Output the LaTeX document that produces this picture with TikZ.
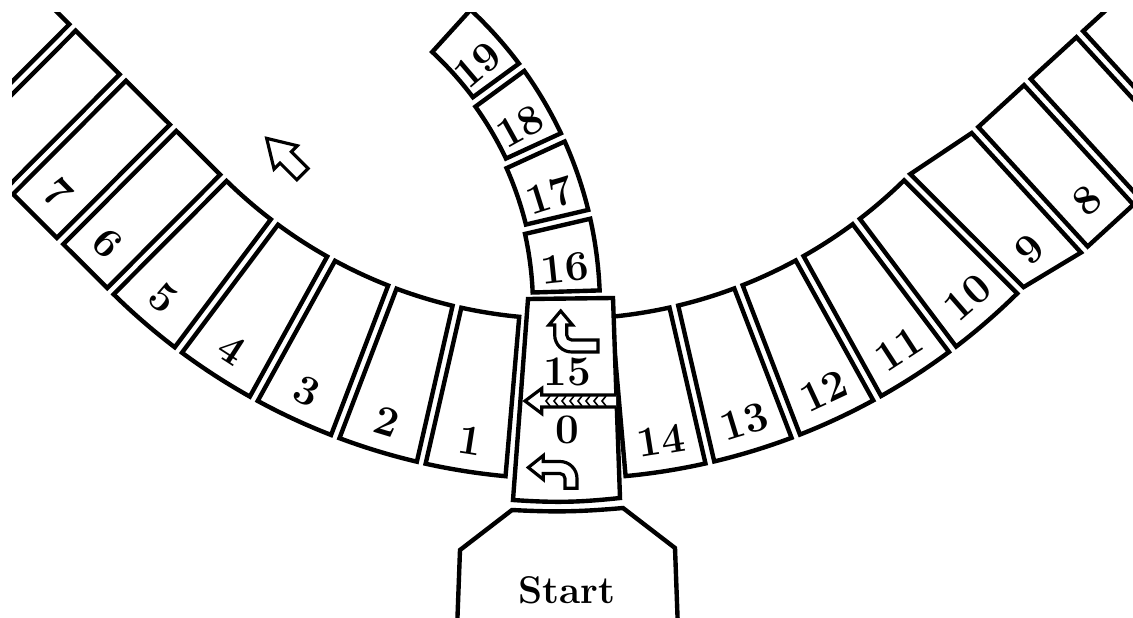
\documentclass[tikz,border=0pt]{standalone}
\usetikzlibrary{calc}
\tikzset{
  cellbox/.style={draw=black,line width=2.5pt,fill=white,line join=miter},
  celltext/.style={font=\fontsize{24}{24}\selectfont\bfseries,inner sep=0pt},
  openarrow/.style={draw=black,line width=1.8pt,fill=white,line join=miter},
}
\begin{document}
\begin{tikzpicture}[x=0.02cm,y=-0.02cm]
  \useasboundingbox (0,0) rectangle (1133,618);
  \clip (12,13) rectangle (1133,618);
  \coordinate (C) at (565,-165);
  \coordinate (B) at (194,307);
  % ring, curved part (left and right)
  \foreach \k in {1,...,5} {
    \pgfmathsetmacro{\ta}{86.9+8*\k}
    \pgfmathsetmacro{\tb}{\ta+8}
    \draw[cellbox] ($(C)+(\ta+0.53:484)$) arc[start angle=\ta+0.53,end angle=\tb-0.53,radius=484]
      -- ($(C)+(\tb-0.4:644)$) arc[start angle=\tb-0.4,end angle=\ta+0.4,radius=644] -- cycle;
    \node[celltext,rotate=86-\ta] (L\k) at ($(C)+(\ta+4:613)$) {\k};
    \pgfmathsetmacro{\ra}{93-8*\k}
    \pgfmathsetmacro{\rb}{\ra-8}
    \pgfmathtruncatemacro{\num}{15-\k}
    \draw[cellbox] ($(C)+(\ra-0.53:484)$) arc[start angle=\ra-0.53,end angle=\rb+0.53,radius=484]
      -- ($(C)+(\rb+0.4:644)$) arc[start angle=\rb+0.4,end angle=\ra-0.4,radius=644] -- cycle;
    \node[celltext,rotate=94-\ra] (R\num) at ($(C)+(\ra-4:613)$) {\num};
  }
  % ring, straight part on the left
  \coordinate (PL) at ($(C)+(134.9:484)$);
  \coordinate (QL) at ($(C)+(134.9:644)$);
  \foreach \j/\lab in {0/6,1/7,2/,3/} {
    \pgfmathsetmacro{\sa}{71*\j+4.5}
    \pgfmathsetmacro{\sb}{71*\j+66.5}
    \draw[cellbox] ($(PL)+(224.9:\sa)$) -- ($(PL)+(224.9:\sb)$) -- ($(QL)+(224.9:\sb)$) -- ($(QL)+(224.9:\sa)$) -- cycle;
    \node[celltext,rotate=-44.9] at ($(PL)+(224.9:\sa+31)+(134.9:128)$) {\lab};
  }
  % ring, straight part on the right (cell 9 joins it to the curve)
  \coordinate (PR) at (975,130);
  \coordinate (QR) at ($(PR)+(47.55:162)$);
  \draw[cellbox] ($(C)+(44.47:484)$) -- ($(PR)+(-42.45:-4.5)$) -- ($(QR)+(-42.45:-4.5)$)
    -- ($(C)+(44.6:644)$) -- cycle;
  \node[celltext,rotate=44] (R9) at (1030,249) {9};
  \foreach \j/\lab in {0/8,1/,2/} {
    \pgfmathsetmacro{\sa}{71*\j+4.5}
    \pgfmathsetmacro{\sb}{71*\j+66.5}
    \draw[cellbox] ($(PR)+(-42.45:\sa)$) -- ($(PR)+(-42.45:\sb)$) -- ($(QR)+(-42.45:\sb)$) -- ($(QR)+(-42.45:\sa)$) -- cycle;
    \node[celltext,rotate=42.45] at ($(PR)+(-42.45:\sa+31)+(47.55:128)$) {\lab};
  }
  % branch 16--19
  \foreach \k/\ri in {0/339,1/342,2/345.5,3/349} {
    \pgfmathsetmacro{\ta}{-1.7-11.5*\k}
    \pgfmathsetmacro{\tb}{\ta-11.5}
    \pgfmathtruncatemacro{\num}{16+\k}
    \draw[cellbox] ($(B)+(\ta-0.75:\ri)$) arc[start angle=\ta-0.75,end angle=\tb+0.75,radius=\ri]
      -- ($(B)+(\tb+0.64:406)$) arc[start angle=\tb+0.64,end angle=\ta-0.64,radius=406] -- cycle;
    \node[celltext,rotate={4.25-(\ta)}] (U\num) at ($(B)+(\ta-4.25:373)$) {\num};
  }
  % start cell 0/15
  \draw[cellbox] (528,299) -- (613,298) -- (620,498) to[bend left=5] (513,500) -- cycle;
  \node[celltext] (n15) at (567,372) {15};
  \node[celltext] (n0) at (567,430) {0};
  % start box
  \draw[cellbox] (457,630) -- (460,550) -- (512,510) to[bend right=4] (623,508) -- (675,548) -- (678,630);
  \node[font=\fontsize{22}{22}\selectfont\bfseries] (start) at (567,590) {Start};
  % arrows
  \draw[openarrow] (598,340) -- (571.7,340) arc[start angle=90,end angle=180,radius=5] -- (566.7,325)
    -- (572.5,325) -- (560.7,311) -- (548.9,325) -- (554.7,325) -- (554.7,335)
    arc[start angle=180,end angle=90,radius=17] -- (598,352) -- cycle;
  \draw[openarrow] (528.3,467.5) -- (543.3,455.5) -- (543.3,461.5) -- (560,461.5)
    arc[start angle=-90,end angle=0,radius=17] -- (577,488.3) -- (565,488.3) -- (565,478.5)
    arc[start angle=0,end angle=-90,radius=5] -- (543.3,473.5) -- (543.3,479.5) -- cycle;
  \draw[openarrow] (616,395) -- (541.7,395) -- (541.7,388.5) -- (525,401) -- (541.7,413.5) -- (541.7,407) -- (616,407);
  \foreach \x in {546,554,...,602}
    \draw[line width=0.9pt] (\x+4,396) -- (\x,401) -- (\x+4,406);
  \begin{scope}[shift={(302.5,174.2)},rotate=135]
    \draw[openarrow] (0,8) -- (23.7,8) -- (23.7,16.5) -- (50.7,0) -- (23.7,-16.5) -- (23.7,-8) -- (0,-8) -- cycle;
  \end{scope}
\end{tikzpicture}
\end{document}
